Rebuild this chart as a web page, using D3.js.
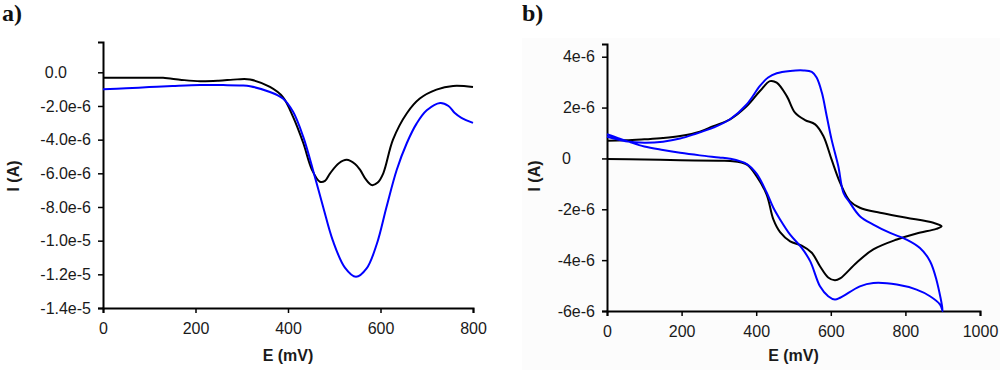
<!DOCTYPE html>
<html>
<head>
<meta charset="utf-8">
<script src="https://cdn.jsdelivr.net/npm/d3@7"></script>
<style>
  body { margin: 0; background: #fff; }
  svg { display: block; font-family: "Liberation Sans", Arial, sans-serif; }
</style>
</head>
<body>
<svg id="chart" width="1000" height="370"></svg>
<script>
"use strict";

// ---- panel a) : current in µA (1e-6 A) ----
const aBlackE = [0, 50, 100, 130, 170, 210, 250, 290, 318, 361, 389, 411, 433, 452, 469, 480, 491, 510, 527, 545, 556, 568, 581, 594, 606, 627, 657, 685, 721, 757, 800];
const aBlackI = [-0.32, -0.32, -0.32, -0.33, -0.45, -0.53, -0.5, -0.42, -0.43, -0.87, -1.47, -2.65, -4.2, -5.8, -6.5, -6.45, -6.0, -5.4, -5.2, -5.45, -5.8, -6.35, -6.7, -6.55, -6.0, -4.0, -2.43, -1.56, -1.03, -0.81, -0.87];
const aBlueE = [0, 50, 100, 150, 210, 260, 300, 318, 361, 389, 411, 433, 454, 476, 497, 523, 547, 570, 592, 613, 635, 657, 678, 700, 729, 747, 760, 775, 800];
const aBlueI = [-1.0, -0.95, -0.88, -0.82, -0.76, -0.76, -0.78, -0.83, -1.17, -1.56, -2.35, -3.84, -5.8, -8.0, -10.0, -11.6, -12.15, -11.65, -10.2, -8.0, -5.8, -4.2, -3.05, -2.26, -1.82, -2.0, -2.4, -2.7, -3.0];
const aXTicks = [0, 200, 400, 600, 800];
const aYTicks = [0, -2, -4, -6, -8, -10, -12, -14];
const aYLabels = ["0.0", "-2.0e-6", "-4.0e-6", "-6.0e-6", "-8.0e-6", "-1.0e-5", "-1.2e-5", "-1.4e-5"];

// ---- panel b) : cyclic voltammograms, current in µA ----
const bBlackE = [0, 100, 196, 300, 330, 375, 401, 428, 446, 464, 491, 522, 549, 571, 593, 611, 625, 669, 714, 777, 830, 883, 897,
                 875, 803, 732, 678, 651, 625, 602, 580, 558, 531, 504, 482, 455, 437, 410, 375, 330, 285, 249, 196, 150, 100, 50, 0];
const bBlackI = [-0.02, -0.04, -0.07, -0.09, -0.1, -0.24, -0.7, -1.42, -2.4, -2.9, -3.26, -3.43, -3.71, -4.24, -4.68, -4.79, -4.72, -4.1, -3.58, -3.19, -2.95, -2.77, -2.67,
                 -2.53, -2.33, -2.14, -1.94, -1.68, -0.96, -0.04, 0.88, 1.34, 1.51, 1.8, 2.45, 2.98, 3.04, 2.65, 2.06, 1.54, 1.27, 1.05, 0.88, 0.8, 0.75, 0.71, 0.7];
const bBlueE = [0, 30, 60, 100, 150, 196, 249, 300, 330, 375, 401, 428, 446, 464, 491, 522, 545, 571, 593, 611, 625, 678, 714, 777, 830, 866, 893, 900,
                883, 866, 839, 803, 759, 714, 678, 651, 634, 620, 602, 589, 576, 562, 549, 527, 491, 455, 432, 410, 375, 330, 285, 240, 196, 150, 100, 50, 0];
const bBlueI = [0.95, 0.8, 0.65, 0.47, 0.33, 0.22, 0.12, 0.04, -0.01, -0.22, -0.6, -1.34, -1.94, -2.4, -3.0, -3.52, -4.05, -5.03, -5.42, -5.55, -5.48, -5.03, -4.9, -4.96, -5.16, -5.42, -5.75, -6.0,
                -4.76, -4.04, -3.52, -3.19, -2.93, -2.6, -2.27, -1.74, -1.35, -0.3, 0.75, 1.67, 2.59, 3.18, 3.4, 3.46, 3.44, 3.35, 3.18, 2.85, 2.13, 1.54, 1.21, 0.98, 0.78, 0.66, 0.62, 0.68, 0.85];
const bXTicks = [0, 200, 400, 600, 800, 1000];
const bYTicks = [4, 2, 0, -2, -4, -6];
const bYLabels = ["4e-6", "2e-6", "0", "-2e-6", "-4e-6", "-6e-6"];

const svg = d3.select("#chart");

// faint background behind panel b
svg.append("rect")
  .attr("x", 522).attr("y", 38)
  .attr("width", 478).attr("height", 332)
  .attr("fill", "#fcfcfc");

function drawPanel(opt) {
  const x = d3.scaleLinear().domain(opt.xDomain).range(opt.xRange);
  const y = d3.scaleLinear().domain(opt.yDomain).range(opt.yRange);

  const xAxis = d3.axisBottom(x).tickValues(opt.xTicks).tickSize(5).tickPadding(10).tickFormat(d3.format("d"));
  const yAxis = d3.axisLeft(y).tickValues(opt.yTicks).tickSize(5).tickPadding(7)
    .tickFormat((d, i) => opt.yLabels[i]);

  const gx = svg.append("g")
    .attr("transform", `translate(0, ${opt.yRange[0]})`)
    .call(xAxis);
  const gy = svg.append("g")
    .attr("transform", `translate(${opt.xRange[0]}, 0)`)
    .call(yAxis);

  [gx, gy].forEach(g => {
    g.select(".domain").attr("stroke", "#000").attr("stroke-width", 2);
    g.selectAll(".tick line").attr("stroke", "#000").attr("stroke-width", 1.5);
    g.selectAll(".tick text")
      .attr("fill", "#1a1a1a")
      .style("font-size", "16px")
      .style("font-family", "'Liberation Sans', Arial, sans-serif");
  });

  // the zero label sits left, aligned with the first digit of the others
  gy.selectAll(".tick text")
    .filter(d => d === 0)
    .attr("dx", -24);

  const line = d3.line()
    .x(d => x(d[0]))
    .y(d => y(d[1]))
    .curve(d3.curveCatmullRom.alpha(0.5));

  opt.series.forEach(s => {
    svg.append("path")
      .datum(d3.zip(s.e, s.i))
      .attr("fill", "none")
      .attr("stroke", s.color)
      .attr("stroke-width", 2)
      .attr("stroke-linejoin", "round")
      .attr("d", line);
  });

  svg.append("text")
    .attr("x", (opt.xRange[0] + opt.xRange[1]) / 2)
    .attr("y", 361)
    .attr("text-anchor", "middle")
    .style("font-size", "16px")
    .style("font-weight", "bold")
    .attr("fill", "#1a1a1a")
    .text("E (mV)");

  svg.append("text")
    .attr("transform", `translate(${opt.yTitleX}, 176) rotate(-90)`)
    .attr("text-anchor", "middle")
    .style("font-size", "16px")
    .style("font-weight", "bold")
    .attr("fill", "#1a1a1a")
    .text("I (A)");

  svg.append("text")
    .attr("x", opt.tagX)
    .attr("y", 21)
    .style("font-family", "'Liberation Serif', 'Times New Roman', serif")
    .style("font-size", "24px")
    .style("font-weight", "bold")
    .attr("fill", "#111")
    .text(opt.tag);
}

drawPanel({
  xDomain: [0, 800], xRange: [103, 473],
  yDomain: [-14, 1.8], yRange: [308, 42],
  xTicks: aXTicks, yTicks: aYTicks, yLabels: aYLabels,
  yTitleX: 19, tagX: 2, tag: "a)",
  series: [
    { e: aBlackE, i: aBlackI, color: "#000" },
    { e: aBlueE, i: aBlueI, color: "#0000ff" }
  ]
});

drawPanel({
  xDomain: [0, 1000], xRange: [607, 980],
  yDomain: [-6, 4.5], yRange: [311, 44],
  xTicks: bXTicks, yTicks: bYTicks, yLabels: bYLabels,
  yTitleX: 540, tagX: 522, tag: "b)",
  series: [
    { e: bBlackE, i: bBlackI, color: "#000" },
    { e: bBlueE, i: bBlueI, color: "#0000ff" }
  ]
});
</script>
</body>
</html>
